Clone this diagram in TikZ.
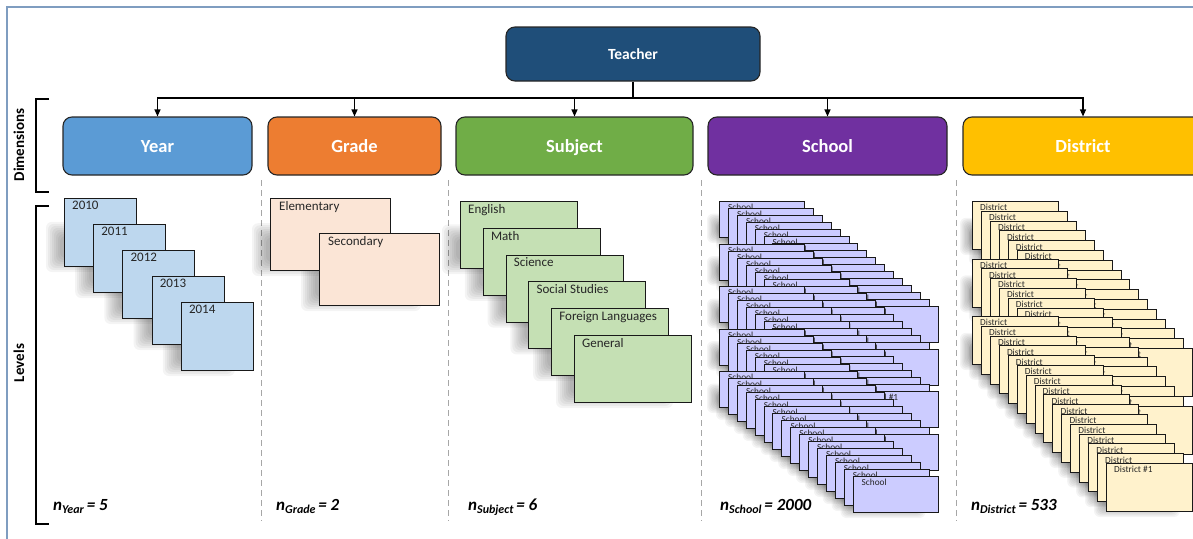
\documentclass[tikz,border=0pt]{standalone}
\usepackage{fontspec}
\setmainfont{Carlito}
\usetikzlibrary{arrows.meta}
\definecolor{cTeacher}{HTML}{1F4E79}
\definecolor{cYear}{HTML}{5B9BD5}
\definecolor{cGrade}{HTML}{ED7D31}
\definecolor{cSubject}{HTML}{70AD47}
\definecolor{cSchool}{HTML}{7030A0}
\definecolor{cDistrict}{HTML}{FFC000}
\definecolor{cYearL}{HTML}{BDD7EE}
\definecolor{cGradeL}{HTML}{FBE5D6}
\definecolor{cSubjectL}{HTML}{C5E0B4}
\definecolor{cSchoolL}{HTML}{CCCCFF}
\definecolor{cDistrictL}{HTML}{FFF2CC}
\definecolor{cFrame}{HTML}{7F9DC0}
\definecolor{cSep}{HTML}{A6A6A6}
\tikzset{
  dimbox/.style={draw=black!85, line width=1.1pt, rounded corners=9pt, minimum height=58pt,
    text height=12.5pt, text depth=0pt,
    text=white, font=\fontsize{18.5}{18.5}\selectfont\bfseries},
  conn/.style={line width=1.1pt, -{Triangle[length=7pt,width=6pt]}},
  card/.style={draw=black!90, line width=1pt, anchor=north west, inner sep=0pt},
  scard/.style={draw=black!90, line width=0.9pt, anchor=north west, inner sep=0pt},
  shadelayer/.style={fill=black, opacity=0.045, rounded corners=6pt},
  biglab/.style={anchor=north west, inner sep=0pt, text=black!85, font=\fontsize{13}{13}\selectfont},
  smalllab/.style={anchor=north west, inner sep=0pt, text=black!85, font=\fontsize{9.3}{9.3}\selectfont},
  sidelab/.style={rotate=90, font=\fontsize{15}{15}\selectfont\bfseries},
  countlab/.style={anchor=base west, inner sep=0pt, font=\fontsize{17}{17}\selectfont\bfseries\itshape},
  sep/.style={draw=cSep, line width=0.9pt, dash pattern=on 6pt off 4pt},
}
% soft shadow: #1 x, #2 y (top-left), #3 w, #4 h, #5 left shift, #6 layer step
\newcommand{\softshadow}[6]{%
  \foreach \q in {0,...,7} {
    \path[shadelayer] ({#1-#5+\q*#6},{#2+0.35*#4+\q*#6}) rectangle ({#1+#3-#5-\q*#6},{#2+#4+6-\q*#6});
  }}
\newcommand{\cnt}[2]{n\raisebox{-3pt}{\fontsize{12}{12}\selectfont #1}\,= #2}
\begin{document}
\begin{tikzpicture}[x=1pt,y=-1pt]
\useasboundingbox (0,0) rectangle (1193,538);
% frame
\draw[cFrame, line width=1.2pt] (7,540) -- (7,7) -- (1195,7);

% top
\node[draw=black!85, line width=1.1pt, rounded corners=9pt, fill=cTeacher, minimum width=254pt,
  minimum height=54pt, text height=10.5pt, text depth=0pt, text=white,
  font=\fontsize{15.5}{15.5}\selectfont\bfseries] (teacher) at (633,54) {Teacher};

\node[dimbox, fill=cYear, minimum width=189pt] (year) at (157.5,146) {Year};
\node[dimbox, fill=cGrade, minimum width=173pt] (grade) at (354.5,146) {Grade};
\node[dimbox, fill=cSubject, minimum width=237pt] (subject) at (574.5,146) {Subject};
\node[dimbox, fill=cSchool, minimum width=239pt] (school) at (827.5,146) {School};
\node[dimbox, fill=cDistrict, minimum width=240pt] (district) at (1083,146) {District};

\coordinate (bus) at (633,98);
\draw[line width=1.1pt] (teacher.south) -- (bus);
\foreach \n in {year,grade,subject,school,district}
  \draw[conn] (bus) -| (\n.north);

% brackets
\coordinate (d1) at (49,99); \coordinate (d2) at (49,192);
\draw[line width=1.1pt] (d1) -- (36,99) -- (36,192) -- (d2);
\node[sidelab] (dimlab) at (19,145) {Dimensions};
\coordinate (l1) at (49,206); \coordinate (l2) at (49,524);
\draw[line width=1.1pt] (l1) -- (36,206) -- (36,524) -- (l2);
\node[sidelab] (levlab) at (19,363) {Levels};

% separators
\foreach \x/\nm in {261/a,448/b,701/c,956/d} {
  \coordinate (sepT\nm) at (\x,180);
  \coordinate (sepB\nm) at (\x,521);
  \draw[sep] (sepT\nm) -- (sepB\nm);
}

% ---------- shadows (drawn first, beneath all cards)
\foreach \i in {0,...,4} {
  \pgfmathsetmacro\cx{64+29.2*\i}\pgfmathsetmacro\cy{198+26*\i}
  \softshadow{\cx}{\cy}{72}{68}{18}{2}
}
\softshadow{270}{198}{120}{72}{18}{2}
\softshadow{319}{233}{120}{72}{18}{2}
\foreach \i in {0,...,5} {
  \pgfmathsetmacro\cx{460+22.8*\i}\pgfmathsetmacro\cy{201+26.8*\i}
  \softshadow{\cx}{\cy}{117}{67}{18}{2}
}
\foreach \g in {0,...,4} {
  \foreach \k in {0,...,15} {
    \pgfmathsetmacro\cx{719+8.9*\k}\pgfmathsetmacro\cy{201+42.5*\g+7*\k}
    \softshadow{\cx}{\cy}{85}{36}{12}{1.3}
  }
}
\foreach \g in {0,...,2} {
  \foreach \k in {0,...,15} {
    \pgfmathsetmacro\cx{972+8.93*\k}\pgfmathsetmacro\cy{201+57.5*\g+9.8*\k}
    \softshadow{\cx}{\cy}{86}{48}{12}{1.3}
  }
}

% Year cards
\foreach \i/\lab in {0/2010,1/2011,2/2012,3/2013,4/2014} {
  \pgfmathsetmacro\cx{64+29.2*\i}\pgfmathsetmacro\cy{198+26*\i}
  \node[card, fill=cYearL, minimum width=72pt, minimum height=68pt] (y\i) at (\cx,\cy) {};
  \node[biglab] (yl\i) at ([xshift=8pt,yshift=-3pt]y\i.north west) {\lab};
}

% Grade cards
\node[card, fill=cGradeL, minimum width=120pt, minimum height=72pt] (g0) at (270,198) {};
\node[biglab] (gl0) at ([xshift=9pt,yshift=-3pt]g0.north west) {Elementary};
\node[card, fill=cGradeL, minimum width=120pt, minimum height=72pt] (g1) at (319,233) {};
\node[biglab] (gl1) at ([xshift=9pt,yshift=-3pt]g1.north west) {Secondary};

% Subject cards
\foreach \i/\lab in {0/English,1/Math,2/Science,3/Social Studies,4/Foreign Languages,5/General} {
  \pgfmathsetmacro\cx{460+22.8*\i}\pgfmathsetmacro\cy{201+26.8*\i}
  \node[card, fill=cSubjectL, minimum width=117pt, minimum height=67pt] (su\i) at (\cx,\cy) {};
  \node[biglab] (sul\i) at ([xshift=8pt,yshift=-3pt]su\i.north west) {\lab};
}

% School stacks
\foreach \g in {0,...,4} {
  \foreach \k in {0,...,15} {
    \def\txt{School}
    \ifnum\g=2 \ifnum\k=15 \def\txt{School \#1}\fi\fi
    \pgfmathsetmacro\cx{719+8.9*\k}\pgfmathsetmacro\cy{201+42.5*\g+7*\k}
    \node[scard, fill=cSchoolL, minimum width=85pt, minimum height=36pt] (s\g-\k) at (\cx,\cy) {};
    \node[smalllab] (sl\g-\k) at ([xshift=9pt,yshift=-3.2pt]s\g-\k.north west) {\txt};
  }
}

% District stacks
\foreach \g in {0,...,2} {
  \foreach \k in {0,...,15} {
    \def\txt{District}
    \ifnum\g=2 \ifnum\k=15 \def\txt{District \#1}\fi\fi
    \pgfmathsetmacro\cx{972+8.93*\k}\pgfmathsetmacro\cy{201+57.5*\g+9.8*\k}
    \node[scard, fill=cDistrictL, minimum width=86pt, minimum height=48pt] (d\g-\k) at (\cx,\cy) {};
    \node[smalllab] (dl\g-\k) at ([xshift=8pt,yshift=-3.2pt]d\g-\k.north west) {\txt};
  }
}

% counts
\node[countlab] (nyear) at (53,510) {\cnt{Year}{5}};
\node[countlab] (ngrade) at (276,510) {\cnt{Grade}{2}};
\node[countlab] (nsubject) at (468,510) {\cnt{Subject}{6}};
\node[countlab] (nschool) at (720,510) {\cnt{School}{2000}};
\node[countlab] (ndistrict) at (971,510) {\cnt{District}{533}};
\end{tikzpicture}
\end{document}
